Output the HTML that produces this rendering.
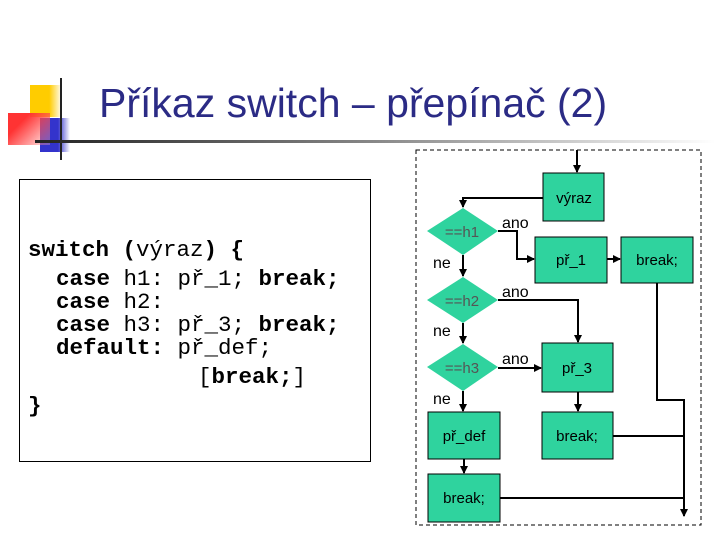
<!DOCTYPE html>
<html><head><meta charset="utf-8"><style>
body{margin:0;width:720px;height:540px;background:#fff;position:relative;overflow:hidden;font-family:"Liberation Sans",sans-serif}
.a{position:absolute}
.code{position:absolute;left:19px;top:179px;width:350px;height:281px;border:1.5px solid #000;font-family:"Liberation Mono",monospace;font-size:22.5px;line-height:23px}
.code div{position:absolute;white-space:pre}
.code b{font-weight:bold}
</style></head><body>
<div class="a" style="left:30px;top:85px;width:32px;height:32px;background:linear-gradient(90deg,#fc0 60%,#fff)"></div>
<div class="a" style="left:40px;top:118px;width:30px;height:34px;background:linear-gradient(90deg,#33c 60%,#fff)"></div>
<div class="a" style="left:8px;top:113px;width:42px;height:32px;background:linear-gradient(135deg,#f33 30%,rgba(255,200,200,0.3))"></div>
<div class="a" style="left:60px;top:78px;width:2px;height:82px;background:#222"></div>
<div class="a" style="left:35px;top:140px;width:680px;height:3px;background:linear-gradient(90deg,#222,#888 50%,#fff)"></div>
<div class="a" style="left:99px;top:80px;font-size:41px;color:#2b2b85;white-space:nowrap">Příkaz switch – přepínač (2)</div>
<div class="code">
<div style="left:8px;top:59px"><b>switch (</b>výraz<b>) {</b></div>
<div style="left:36px;top:88px"><b>case</b> h1: př_1; <b>break;</b></div>
<div style="left:36px;top:111px"><b>case</b> h2:</div>
<div style="left:36px;top:134px"><b>case</b> h3: př_3; <b>break;</b></div>
<div style="left:36px;top:157px"><b>default:</b> př_def;</div>
<div style="left:178px;top:186px">[<b>break;</b>]</div>
<div style="left:8px;top:215px"><b>}</b></div>
</div>
<svg class="a" style="left:0;top:0" width="720" height="540" font-family="Liberation Sans,sans-serif">
<defs><marker id="m" markerWidth="8" markerHeight="8" refX="7" refY="4" orient="auto" markerUnits="userSpaceOnUse"><path d="M0,0L8,4L0,8z" fill="#000"/></marker></defs>
<rect x="416" y="150" width="285" height="375" fill="none" stroke="#000" stroke-dasharray="4,3"/>
<g fill="#2fd39e" stroke="#000" stroke-width="1">
<rect x="543" y="173" width="61" height="48"/>
<rect x="535" y="237" width="72" height="46"/>
<rect x="621" y="237" width="72" height="46"/>
<rect x="542" y="343" width="71" height="49"/>
<rect x="542" y="412" width="71" height="47"/>
<rect x="428" y="412" width="72" height="47"/>
<rect x="428" y="474" width="72" height="48"/>
<polygon points="463,208 498,231 463,255 427,231" stroke="none"/>
<polygon points="463,277 498,300 463,323 427,300" stroke="none"/>
<polygon points="463,344 498,367 463,391 427,367" stroke="none"/>
</g>
<g fill="none" stroke="#000" stroke-width="2">
<path d="M577,150V172" marker-end="url(#m)"/>
<path d="M543,198H463V207" marker-end="url(#m)"/>
<path d="M498,231H517V259H534" marker-end="url(#m)"/>
<path d="M607,259H620" marker-end="url(#m)"/>
<path d="M463,255V276" marker-end="url(#m)"/>
<path d="M498,300H578V342" marker-end="url(#m)"/>
<path d="M463,323V343" marker-end="url(#m)"/>
<path d="M498,368H541" marker-end="url(#m)"/>
<path d="M463,391V411" marker-end="url(#m)"/>
<path d="M578,392V411" marker-end="url(#m)"/>
<path d="M464,459V473" marker-end="url(#m)"/>
<path d="M657,283V400H684V516" marker-end="url(#m)"/>
<path d="M613,436H684M500,498H684"/>
</g>
<g font-size="15" fill="#000" text-anchor="middle">
<text x="574" y="203">výraz</text>
<text x="571" y="265">př_1</text>
<text x="657" y="265">break;</text>
<text x="577" y="373">př_3</text>
<text x="577" y="441">break;</text>
<text x="464" y="441">př_def</text>
<text x="464" y="503">break;</text>
<text x="462" y="237" fill="#555">==h1</text>
<text x="462" y="306" fill="#555">==h2</text>
<text x="462" y="373" fill="#555">==h3</text>
</g>
<g font-size="16" fill="#000">
<text x="502" y="228">ano</text><text x="502" y="297">ano</text><text x="502" y="364">ano</text>
<text x="433" y="268">ne</text><text x="433" y="336">ne</text><text x="433" y="404">ne</text>
</g>
</svg>
</body></html>
